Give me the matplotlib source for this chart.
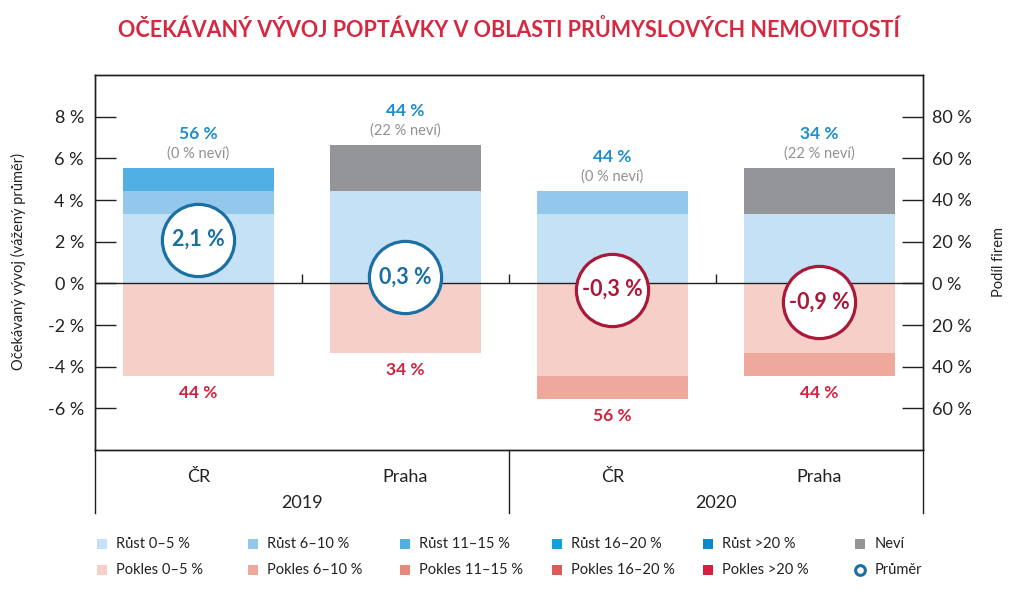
import matplotlib
matplotlib.use("Agg")
import matplotlib.pyplot as plt
import numpy as np

plt.rcParams['font.family'] = ['Lato', 'DejaVu Sans']

# data (podíl firem v %, 9 firem -> násobky 11,1 %)
mista = ["ČR", "Praha", "ČR", "Praha"]
roky = ["2019", "2020"]
rust_0_5 = [33.3, 44.4, 33.3, 33.3]
rust_6_10 = [11.1, 0, 11.1, 0]
rust_11_15 = [11.1, 0, 0, 0]
rust_16_20 = [0, 0, 0, 0]
rust_20 = [0, 0, 0, 0]
nevi = [0, 22.2, 0, 22.2]
pokles_0_5 = [44.4, 33.3, 44.4, 33.3]
pokles_6_10 = [0, 0, 11.1, 11.1]
pokles_11_15 = [0, 0, 0, 0]
pokles_16_20 = [0, 0, 0, 0]
pokles_20 = [0, 0, 0, 0]
prumer = [2.1, 0.3, -0.3, -0.9]
rust_popisek = [56, 44, 44, 34]
nevi_popisek = [0, 22, 0, 22]
pokles_popisek = [44, 34, 56, 44]

c_rust = ['#c5e1f6', '#93c8ec', '#50b0e4', '#14a0d9', '#0a88cc']
c_pokles = ['#f6d0c8', '#eea99c', '#e9887d', '#dd5b57', '#d71f3d']
c_nevi = '#939598'
c_blue_txt = '#1b8ed0'
c_red_txt = '#d0233f'
c_circ_blue = '#1a6fa3'
c_circ_red = '#a8193a'
c_line = '#231f20'

fig = plt.figure(figsize=(10.2, 6.09), dpi=100)
ax = fig.add_axes([95/1020, 1-450/609, 828/1020, 375/609])
ax2 = ax.twinx()
ax.set_zorder(ax2.get_zorder() + 1)
ax.patch.set_visible(False)

x = np.arange(len(mista))
w = 0.725

# kladna strana
bottom = np.zeros(4)
for vals, c in zip([rust_0_5, rust_6_10, rust_11_15, rust_16_20, rust_20, nevi],
                   c_rust + [c_nevi]):
    ax2.bar(x, vals, w, bottom=bottom, color=c, linewidth=0)
    bottom = bottom + np.array(vals)
top = bottom.copy()

bottom = np.zeros(4)
for vals, c in zip([pokles_0_5, pokles_6_10, pokles_11_15, pokles_16_20, pokles_20], c_pokles):
    ax2.bar(x, [-v for v in vals], w, bottom=bottom, color=c, linewidth=0)
    bottom = bottom - np.array(vals)
low = bottom.copy()

for i in range(4):
    ax2.annotate(f"{rust_popisek[i]} %", (x[i], top[i]), xytext=(0, 24.5),
                 textcoords='offset points', ha='center', va='center',
                 fontsize=12.5, fontweight='bold', color=c_blue_txt)
    ax2.annotate(f"({nevi_popisek[i]} % neví)", (x[i], top[i]), xytext=(0, 10),
                 textcoords='offset points', ha='center', va='center',
                 fontsize=10.5, color='#8f9195')
    ax2.annotate(f"{pokles_popisek[i]} %", (x[i], low[i]), xytext=(0, -12.5),
                 textcoords='offset points', ha='center', va='center',
                 fontsize=12.5, fontweight='bold', color=c_red_txt)

ax2.set_ylim(-80, 100)
ax2.set_yticks(np.arange(-60, 81, 20))
ax2.set_yticklabels([f"{abs(v)} %" for v in range(-60, 81, 20)])
ax2.tick_params(axis='y', direction='in', length=15, width=1, color=c_line,
                pad=6.5, labelsize=13, labelcolor='#222222')

# leva osa - prumer
ax.set_xlim(-0.5, 3.5)
ax.set_ylim(-8, 10)
ax.axhline(0, color=c_line, lw=1, zorder=2)
ax.vlines([0.5, 1.5, 2.5], 0, 0.45, color=c_line, lw=1, zorder=2)
for i in range(4):
    ec = c_circ_blue if prumer[i] >= 0 else c_circ_red
    ax.scatter(x[i], prumer[i], s=52**2, facecolor='white', edgecolor=ec,
               linewidth=2.3, zorder=3)
    ax.text(x[i], prumer[i], f"{prumer[i]:.1f} %".replace('.', ','), ha='center',
            va='center', fontsize=15.5, fontweight='bold', color=ec, zorder=4)
ax.set_yticks(np.arange(-6, 9, 2))
ax.set_yticklabels([f"{v} %" for v in range(-6, 9, 2)])
ax.tick_params(axis='y', direction='in', length=15, width=1, color=c_line,
               pad=8, labelsize=13, labelcolor='#222222')
ax.set_xticks([])

for a in (ax, ax2):
    for s in a.spines.values():
        s.set_color(c_line)
        s.set_linewidth(1)

# tabulka kategorii
for xa in (0, 0.5, 1):
    ax.plot([xa, xa], [0, -0.168], transform=ax.transAxes, color=c_line,
            lw=1, clip_on=False)
tr = ax.get_xaxis_transform()
for i in range(4):
    ax.text(x[i], -0.071, mista[i], transform=tr, ha='center', va='center',
            fontsize=13, color='#222222')
for j, r in enumerate(roky):
    ax.text(0.5 + 2 * j, -0.1405, r, transform=tr, ha='center', va='center',
            fontsize=13, color='#222222')

fig.text(18/1020, 1-262/609, "Očekávaný vývoj (vážený průměr)", rotation=90,
         ha='center', va='center', fontsize=10.5, color='#222222')
fig.text(999/1020, 1-262/609, "Podíl firem", rotation=90,
         ha='center', va='center', fontsize=10.5, color='#222222')
fig.text(0.4985, 1-30/609, "OČEKÁVANÝ VÝVOJ POPTÁVKY V OBLASTI PRŮMYSLOVÝCH NEMOVITOSTÍ",
         ha='center', va='center', fontsize=15.5, fontweight='bold', color='#d42940')

# legenda
leg_labels = [["Růst 0–5 %", "Růst 6–10 %", "Růst 11–15 %", "Růst 16–20 %", "Růst >20 %", "Neví"],
              ["Pokles 0–5 %", "Pokles 6–10 %", "Pokles 11–15 %", "Pokles 16–20 %", "Pokles >20 %", "Průměr"]]
leg_colors = [c_rust + [c_nevi], c_pokles + [None]]
lax = fig.add_axes([0, 0, 1, 1])
lax.set_xlim(0, 1020)
lax.set_ylim(609, 0)
lax.axis('off')
for r in range(2):
    yy = 543.7 + r * 26.6
    for k in range(6):
        xx = 101.7 + k * 151.7
        if leg_colors[r][k] is None:
            lax.plot(xx, yy, 'o', ms=7, mfc='white', mec=c_circ_blue, mew=2.2)
        else:
            lax.plot(xx, yy, 's', ms=6.5, color=leg_colors[r][k], mew=0)
        lax.text(xx + 14, yy, leg_labels[r][k], ha='left', va='center',
                 fontsize=10.5, color='#222222')

fig.savefig("out.png", dpi=100)
